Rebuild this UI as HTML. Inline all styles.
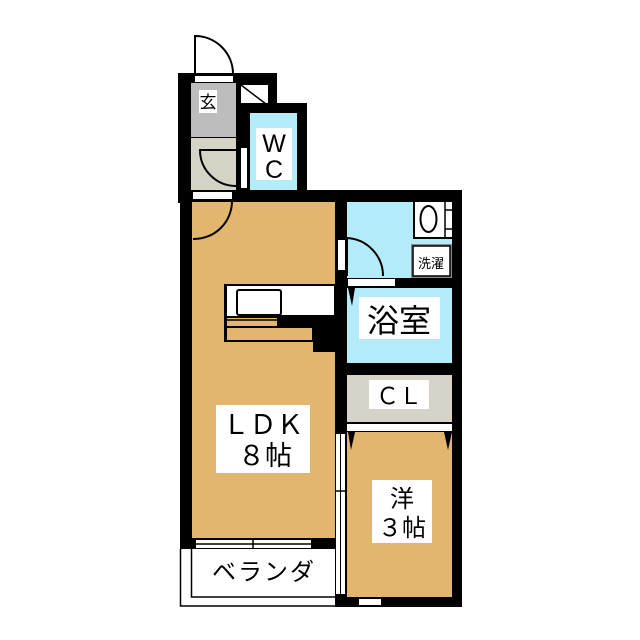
<!DOCTYPE html>
<html><head><meta charset="utf-8"><style>
html,body{margin:0;padding:0;background:#fff;width:640px;height:640px;overflow:hidden}
svg{display:block}
text{font-family:"Liberation Sans","Noto Sans CJK JP",sans-serif;fill:#000}
</style></head><body>
<svg width="640" height="640" viewBox="0 0 640 640" xmlns="http://www.w3.org/2000/svg">
<path d="M195,74 L195,36 A38,38 0 0 1 233,74" fill="none" stroke="#000" stroke-width="2"/>
<rect x="178" y="73" width="99" height="30" fill="#000"/>
<rect x="178" y="73" width="63" height="130" fill="#000"/>
<rect x="236" y="103" width="71" height="100" fill="#000"/>
<rect x="180" y="190" width="282" height="359" fill="#000"/>
<rect x="335" y="190" width="127" height="417" fill="#000"/>
<rect x="195" y="76" width="38" height="6" fill="#fff"/>
<rect x="241" y="85" width="27" height="18" fill="#fff"/>
<line x1="241" y1="85" x2="266" y2="104" stroke="#000" stroke-width="1.5"/>
<rect x="191" y="83" width="45" height="54" fill="#bdbdbd"/>
<rect x="199" y="90" width="18" height="23" fill="#fff"/>
<text x="208" y="108" font-size="17" text-anchor="middle">玄</text>
<rect x="191" y="138" width="45" height="52" fill="#d5d2c6"/>
<path d="M236,150 L200,150 A36,36 0 0 0 236,186" fill="none" stroke="#000" stroke-width="2"/>
<rect x="241" y="148" width="6" height="40" fill="#fff"/>
<rect x="250" y="113" width="47" height="77" fill="#b3ecf8"/>
<rect x="256" y="128" width="36" height="52" fill="#fff"/>
<text x="274" y="152" font-size="25" text-anchor="middle">W</text>
<text x="274" y="178" font-size="25" text-anchor="middle">C</text>
<rect x="192" y="202" width="143" height="336" fill="#e2b66e"/>
<rect x="193" y="192" width="39" height="7" fill="#fff"/>
<path d="M232,201 A38,38 0 0 1 193,239" fill="none" stroke="#000" stroke-width="2"/>
<rect x="225" y="285" width="110" height="32" fill="#fff"/>
<rect x="225" y="285" width="110" height="32" fill="none" stroke="#000" stroke-width="2"/>
<rect x="237" y="290" width="44" height="25" rx="2" fill="#fff" stroke="#000" stroke-width="2"/>
<line x1="226" y1="320" x2="280" y2="320" stroke="#000" stroke-width="1.5"/>
<rect x="225" y="327" width="88" height="14" fill="none" stroke="#000" stroke-width="2"/>
<rect x="224" y="285" width="3" height="57" fill="#000"/>
<rect x="277" y="315" width="58" height="12" fill="#000"/>
<rect x="313" y="327" width="22" height="25" fill="#000"/>
<rect x="216" y="405" width="94" height="68" fill="#fff"/>
<text x="263" y="434" font-size="27" text-anchor="middle">ＬＤＫ</text>
<text x="265" y="465" font-size="27" text-anchor="middle">８帖</text>
<rect x="196" y="540" width="115" height="8" fill="#fff"/>
<line x1="196" y1="544" x2="311" y2="544" stroke="#000" stroke-width="1.5"/>
<line x1="253" y1="538" x2="253" y2="549" stroke="#000" stroke-width="1.5"/>
<rect x="180" y="549" width="155" height="58" fill="#fff"/>
<polyline points="180.5,549 180.5,606 335,606" fill="none" stroke="#000" stroke-width="1.5"/>
<polyline points="191.5,549 191.5,597 335,597" fill="none" stroke="#000" stroke-width="1.5"/>
<text x="264" y="580" font-size="24" text-anchor="middle" letter-spacing="2">ベランダ</text>
<rect x="347" y="202" width="105" height="76" fill="#b3ecf8"/>
<rect x="414" y="202" width="38" height="36" fill="#fff"/>
<polyline points="414,202 414,238 452,238" fill="none" stroke="#000" stroke-width="2"/>
<ellipse cx="428.5" cy="219" rx="8" ry="13" fill="none" stroke="#000" stroke-width="2"/>
<line x1="445" y1="202" x2="445" y2="238" stroke="#000" stroke-width="1.5"/>
<line x1="445" y1="210" x2="452" y2="210" stroke="#000" stroke-width="1.5"/>
<line x1="445" y1="229" x2="452" y2="229" stroke="#000" stroke-width="1.5"/>
<rect x="411" y="244" width="41" height="34" fill="#888"/>
<rect x="413" y="246" width="37" height="30" fill="#fff" stroke="#000" stroke-width="1.5"/>
<text x="431" y="268" font-size="13" text-anchor="middle">洗濯</text>
<rect x="338" y="240" width="7" height="30" fill="#fff"/>
<path d="M347,238 A38,38 0 0 1 383,276" fill="none" stroke="#000" stroke-width="2"/>
<line x1="347" y1="238" x2="347" y2="276" stroke="#000" stroke-width="2"/>
<rect x="348" y="279" width="47" height="7" fill="#fff"/>
<rect x="347" y="288" width="105" height="75" fill="#b3ecf8"/>
<polygon points="348,288 355,288 352,306" fill="#000"/>
<rect x="359" y="297" width="81" height="42" fill="#fff"/>
<text x="399" y="332" font-size="32" text-anchor="middle">浴室</text>
<rect x="347" y="375" width="105" height="47" fill="#d6d4c8"/>
<rect x="369" y="380" width="60" height="29" fill="#fff"/>
<text x="399" y="404" font-size="23" text-anchor="middle">ＣＬ</text>
<rect x="347" y="424" width="105" height="7" fill="#fff"/>
<rect x="347" y="432" width="105" height="165" fill="#e2b66e"/>
<polygon points="348,432 355,432 351,450" fill="#000"/>
<polygon points="444,432 452,432 448,450" fill="#000"/>
<rect x="372" y="480" width="60" height="63" fill="#fff"/>
<text x="402" y="507" font-size="24" text-anchor="middle">洋</text>
<text x="402" y="536" font-size="24" text-anchor="middle">３帖</text>
<rect x="359" y="599" width="22" height="6" fill="#fff"/>
<rect x="336" y="434" width="4" height="160" fill="#fff"/>
<rect x="341" y="434" width="4" height="160" fill="#fff"/>
<line x1="335" y1="491" x2="347" y2="491" stroke="#000" stroke-width="1.5"/>
</svg>
</body></html>
